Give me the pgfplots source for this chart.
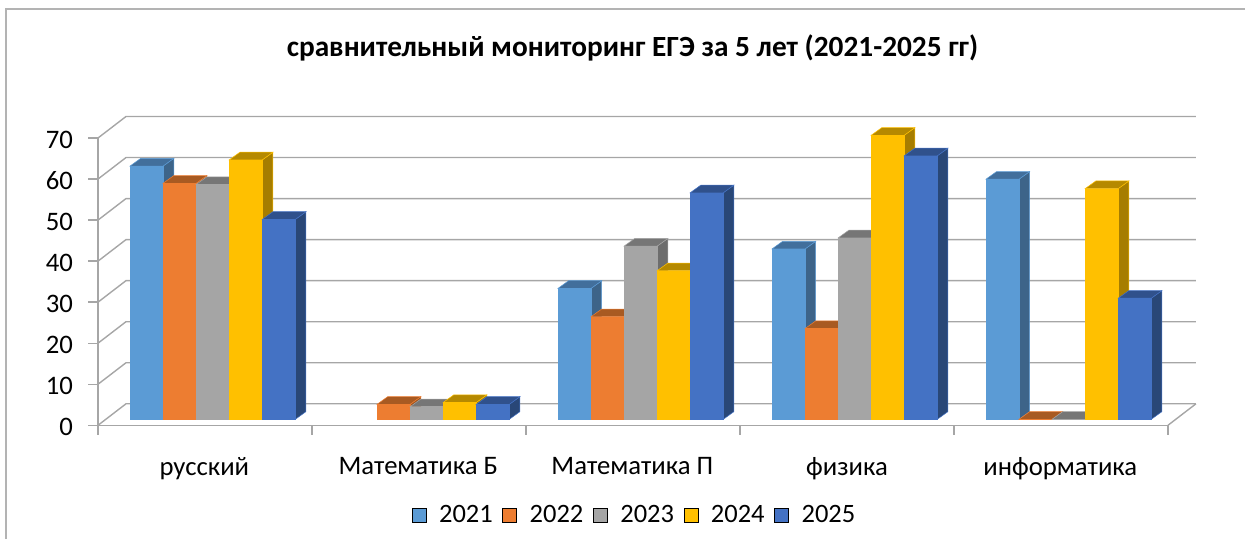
\documentclass[border=0pt]{standalone}
\usepackage{pgfplots}
\pgfplotsset{compat=1.18}
\usepackage{fontspec}
\setmainfont{Carlito}
\definecolor{fa}{HTML}{5B9BD5}\definecolor{ta}{HTML}{426F9C}\definecolor{sa}{HTML}{3D6489}
\definecolor{fb}{HTML}{ED7D31}\definecolor{tb}{HTML}{A85A22}\definecolor{sb}{HTML}{9E5520}
\definecolor{fc}{HTML}{A5A5A5}\definecolor{tc}{HTML}{767676}\definecolor{sc}{HTML}{6D6D6D}
\definecolor{fd}{HTML}{FFC000}\definecolor{td}{HTML}{B58900}\definecolor{sd}{HTML}{A67D00}
\definecolor{fe}{HTML}{4472C4}\definecolor{te}{HTML}{30518C}\definecolor{se}{HTML}{294777}
\definecolor{gridc}{HTML}{A6A6A6}
% #1 category, #2 series index, #3 colour suffix, #4 value
\newcommand{\tdbar}[4]{%
  \pgfmathsetmacro{\xa}{#1+0.1495+0.1545*#2}%
  \pgfmathsetmacro{\xb}{\xa+0.1545}%
  \pgfmathsetmacro{\xc}{\xb+0.05}%
  \pgfmathsetmacro{\xd}{\xa+0.05}%
  \pgfmathsetmacro{\ya}{1.46}%
  \pgfmathsetmacro{\yb}{1.46+#4}%
  \pgfmathsetmacro{\yc}{\ya+1.876}%
  \pgfmathsetmacro{\yd}{\yb+1.876}%
  \addplot[forget plot,fill=s#3,draw=f#3,line width=0.5pt] coordinates {(\xb,\ya) (\xc,\yc) (\xc,\yd) (\xb,\yb)} --cycle;
  \addplot[forget plot,fill=t#3,draw=f#3,line width=0.5pt] coordinates {(\xa,\yb) (\xb,\yb) (\xc,\yd) (\xd,\yd)} --cycle;
  \addplot[forget plot,fill=f#3,draw=f#3,line width=0.3pt] coordinates {(\xa,\ya) (\xb,\ya) (\xb,\yb) (\xa,\yb)} --cycle;
}
\newcommand{\wall}[1]{%
  \pgfmathsetmacro{\yw}{#1+5.24}%
  \addplot[forget plot,gridc,line width=1.4pt] coordinates {(0,#1) (0.1308,\yw) (5.1308,\yw)};
}
\begin{document}
\begin{tikzpicture}[x=1pt,y=1pt]
\path[use as bounding box] (-98,-113.7) rectangle (1147,425.3);
\draw[color=gridc!85!white,line width=1.3pt] (-92,-113.7) -- (-92,416.3) -- (1147,416.3);
\begin{axis}[
  at={(0,0)},anchor=origin,
  scale only axis,width=1070pt,height=287.3pt,
  xmin=0,xmax=5,ymin=0,ymax=70,clip=false,
  axis lines=left,
  axis line style={-,gridc,line width=1.4pt},
  tick style={gridc,line width=1.4pt},
  tick align=outside,
  major tick length=9.5pt,
  xtick={0,1,2,3,4,5},xticklabels={},
  extra x ticks={0.497,1.497,2.497,3.5,4.497},
  extra x tick labels={русский,Математика Б,Математика П,физика,информатика},
  extra x tick style={tick style={draw=none},xticklabel style={yshift=-19pt}},
  ytick={0,10,...,70},
  tick label style={font=\fontsize{26.7}{30}\selectfont,black},
  /pgf/number format/assume math mode=true,
  yticklabel style={xshift=-12pt,yshift=-1.5pt},
  title={\bfseries сравнительный мониторинг ЕГЭ за 5 лет (2021-2025 гг)},
  title style={font=\fontsize{29.3}{33}\selectfont,at={(0.4995,1.262)},anchor=base},
  legend style={at={(0.5014,-0.312)},anchor=center,draw=none,fill=none,
    legend columns=5,font=\fontsize{26.5}{30}\selectfont,
    /tikz/every odd column/.append style={column sep=11pt},
    /tikz/every even column/.append style={column sep=7.5pt},
    legend cell align=left},
  legend image code/.code={\fill[#1] (0pt,-7pt) rectangle (14pt,7pt);},
]
\addlegendimage{fill=fa}\addlegendentry{2021}
\addlegendimage{fill=fb}\addlegendentry{2022}
\addlegendimage{fill=fc}\addlegendentry{2023}
\addlegendimage{fill=fd}\addlegendentry{2024}
\addlegendimage{fill=fe}\addlegendentry{2025}
\wall{0}\wall{10}\wall{20}\wall{30}\wall{40}\wall{50}\wall{60}\wall{70}
\addplot[forget plot,gridc,line width=1.4pt] coordinates {(5,0) (5.1308,5.24)};
% русский
\tdbar{0}{0}{a}{61.7}\tdbar{0}{1}{b}{57.5}\tdbar{0}{2}{c}{57.2}\tdbar{0}{3}{d}{63.2}\tdbar{0}{4}{e}{48.7}
% Математика Б
\tdbar{1}{1}{b}{3.65}\tdbar{1}{2}{c}{3.07}\tdbar{1}{3}{d}{4.1}\tdbar{1}{4}{e}{3.65}
% Математика П
\tdbar{2}{0}{a}{31.9}\tdbar{2}{1}{b}{25.0}\tdbar{2}{2}{c}{42.2}\tdbar{2}{3}{d}{36.2}\tdbar{2}{4}{e}{55.2}
% физика
\tdbar{3}{0}{a}{41.5}\tdbar{3}{1}{b}{22.1}\tdbar{3}{2}{c}{44.2}\tdbar{3}{3}{d}{69.2}\tdbar{3}{4}{e}{64.2}
% информатика
\tdbar{4}{0}{a}{58.5}\tdbar{4}{1}{b}{0}\tdbar{4}{2}{c}{0}\tdbar{4}{3}{d}{56.2}\tdbar{4}{4}{e}{29.5}
\end{axis}
\end{tikzpicture}
\end{document}
